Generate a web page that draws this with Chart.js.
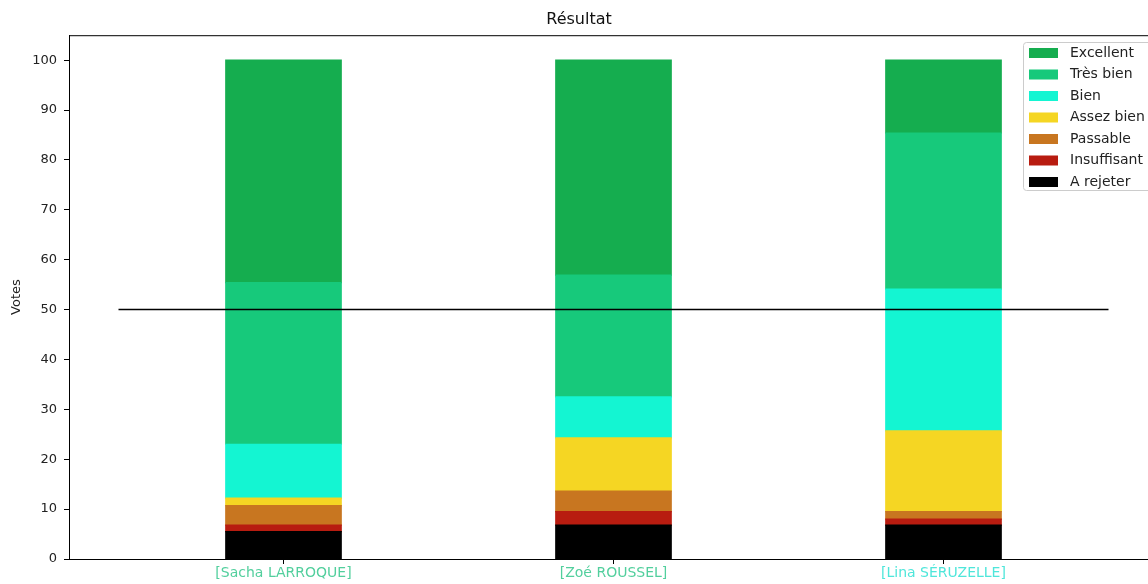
<!DOCTYPE html>
<html lang="fr">
<head>
<meta charset="UTF-8">
<title>Résultat</title>
<script src="https://cdn.jsdelivr.net/npm/chart.js"></script>
<style>
    html, body {
        margin: 0;
        padding: 0;
        background: #fff;
        overflow: hidden;
    }
    #wrap {
        width: 1158px;
        height: 584px;
        position: relative;
    }
</style>
</head>
<body>
<div id="wrap"><canvas id="resultChart"></canvas></div>
<script>
    // Candidats et mentions (de bas en haut)
    const candidats = ['[Sacha LARROQUE]', '[Zoé ROUSSEL]', '[Lina SÉRUZELLE]'];
    const mentions = ['A rejeter', 'Insuffisant', 'Passable', 'Assez bien', 'Bien', 'Très bien', 'Excellent'];

    // Part des votes (%) par mention
    const aRejeter    = [5.5, 6.8, 6.8];
    const insuffisant = [1.3, 2.7, 1.2];
    const passable    = [3.9, 4.1, 1.5];
    const assezBien   = [1.5, 10.7, 16.2];
    const bien        = [10.8, 8.2, 28.4];
    const tresBien    = [32.4, 24.4, 31.3];
    const excellent   = [44.6, 43.1, 14.6];

    // Ligne de majorité
    const seuil = 50;
    const seuilX = [-0.5, 2.5];

    const couleurs = ['#000000', '#b81c10', '#c87620', '#f5d623', '#14f5d2', '#17c97b', '#15ad4f'];
    const couleursNoms = ['#52cf9d', '#52cf9d', '#4fe6da'];
    const yTicks = [0, 10, 20, 30, 40, 50, 60, 70, 80, 90, 100];

    const series = [aRejeter, insuffisant, passable, assezBien, bien, tresBien, excellent];

    const datasets = series.map((valeurs, i) => ({
        type: 'bar',
        label: mentions[i],
        data: valeurs.map((v, k) => ({ x: k, y: v })),
        backgroundColor: couleurs[i],
        borderWidth: 0,
        inflateAmount: 0.6,
        stack: 'votes',
        barPercentage: 0.35,
        categoryPercentage: 1,
        order: 1
    }));

    datasets.push({
        type: 'line',
        label: 'majorité',
        data: seuilX.map(x => ({ x: x, y: seuil })),
        borderColor: '#000',
        borderWidth: 1.6,
        pointRadius: 0,
        fill: false,
        stack: 'ref',
        order: 0
    });

    // Cadre et légende dans la zone du graphique (style matplotlib)
    const cadre = {
        id: 'cadre',
        afterDraw(chart) {
            const { ctx, chartArea: a } = chart;
            ctx.save();
            ctx.strokeStyle = '#000';
            ctx.lineWidth = 1;
            ctx.strokeRect(a.left + 0.5, a.top + 0.5, a.right - a.left - 1, a.bottom - a.top);

            // légende
            const lx = 1023, ly = 42, lh = 148;
            ctx.fillStyle = 'rgba(255,255,255,0.85)';
            ctx.strokeStyle = '#cccccc';
            ctx.beginPath();
            ctx.roundRect(lx + 0.5, ly + 0.5, 150, lh, 3);
            ctx.fill();
            ctx.stroke();

            const items = chart.data.datasets.filter(d => d.type === 'bar').slice().reverse();
            ctx.font = '14px "DejaVu Sans"';
            ctx.textBaseline = 'middle';
            ctx.textAlign = 'left';
            items.forEach((d, i) => {
                const cy = 53 + i * 21.5;
                ctx.fillStyle = d.backgroundColor;
                ctx.fillRect(1029, cy - 5, 29, 10);
                ctx.fillStyle = '#222';
                ctx.fillText(d.label, 1070, cy);
            });
            ctx.restore();
        }
    };

    new Chart(document.getElementById('resultChart'), {
        data: { datasets: datasets },
        options: {
            responsive: true,
            maintainAspectRatio: false,
            animation: false,
            layout: { padding: { left: 0, right: 0, top: 0, bottom: 0 } },
            plugins: {
                legend: { display: false },
                tooltip: { enabled: false },
                title: {
                    display: true,
                    text: 'Résultat',
                    color: '#111',
                    font: { family: 'DejaVu Sans', size: 16, weight: 'normal' },
                    padding: { top: 10, bottom: 6 }
                }
            },
            scales: {
                x: {
                    type: 'linear',
                    min: -0.65,
                    max: 2.65,
                    offset: false,
                    stacked: true,
                    grid: { display: true, offset: false, drawOnChartArea: false, tickLength: 5, color: '#000' },
                    border: { display: true, color: '#000' },
                    afterBuildTicks: scale => { scale.ticks = candidats.map((c, k) => ({ value: k })); },
                    afterFit: scale => { scale.height = 25; },
                    ticks: {
                        padding: 1,
                        maxRotation: 0,
                        autoSkip: false,
                        font: { family: 'DejaVu Sans', size: 14 },
                        color: ctx => couleursNoms[ctx.index] || '#000',
                        callback: v => candidats[v] || ''
                    }
                },
                y: {
                    min: 0,
                    max: 105,
                    stacked: true,
                    grid: { display: true, drawOnChartArea: false, tickLength: 5, color: '#000' },
                    border: { display: true, color: '#000' },
                    afterBuildTicks: scale => { scale.ticks = yTicks.map(v => ({ value: v })); },
                    afterFit: scale => { scale.width = 69; },
                    ticks: {
                        padding: 7,
                        color: '#222',
                        font: { family: 'DejaVu Sans', size: 13 }
                    },
                    title: {
                        display: true,
                        text: 'Votes',
                        color: '#222',
                        font: { family: 'DejaVu Sans', size: 13 },
                        padding: { top: 9, bottom: 0 }
                    }
                }
            }
        },
        plugins: [cadre]
    });
</script>
</body>
</html>
